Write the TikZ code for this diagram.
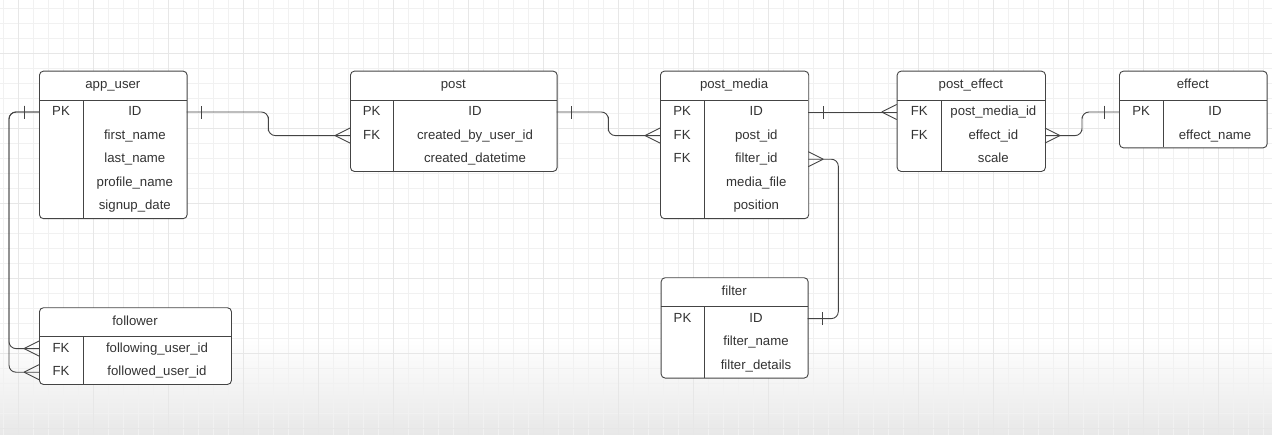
\documentclass[tikz,border=0pt]{standalone}
\usepackage{fontspec}
\setmainfont{Liberation Sans}
\usetikzlibrary{calc,decorations.markings}
\definecolor{erline}{HTML}{444444}
\definecolor{ertext}{HTML}{333333}
\definecolor{minorgrid}{HTML}{F1F1F1}
\definecolor{majorgrid}{HTML}{E7E7E7}
\tikzset{
  tablebox/.style={draw=erline, line width=0.9pt, rounded corners=4pt, fill=white, inner sep=0pt},
  rowtext/.style={text=ertext, font=\fontsize{13.2}{15}\selectfont, inner sep=0pt, text height=10pt, text depth=3pt},
  link/.style={draw=erline, line width=0.9pt, rounded corners=7pt},
  one start/.style={postaction={decorate, decoration={markings,
    mark=at position 15pt with {\draw[erline, line width=0.9pt] (0,-6.5pt) -- (0,6.5pt);}}}},
  many end/.style={postaction={decorate, decoration={markings,
    mark=at position -15pt with {\draw[erline, line width=0.9pt] (0,0) -- (15pt,7.5pt) (0,0) -- (15pt,-7.5pt);}}}}
}
\newcommand{\ertable}[8]{%
  \pgfmathsetmacro{\tbot}{#3+29.5+#6*23.6}
  \node[tablebox, anchor=north west, minimum width={#4-#2}, minimum height={\tbot-#3}] (#1) at (#2,#3) {};
  \draw[erline, line width=0.9pt] (#2,{#3+29.5}) -- (#4,{#3+29.5}) (#5,{#3+29.5}) -- (#5,\tbot);
  \node[rowtext] (#1-title) at ({(#2+#4)/2},{#3+14.7}) {#7};
  \foreach \k/\f [count=\i] in {#8}{
    \node[rowtext] (#1-\i-key) at ({(#2+#5)/2},{#3+29.5+(\i-0.5)*23.6}) {\k};
    \node[rowtext] (#1-\i-field) at ({(#5+#4)/2},{#3+29.5+(\i-0.5)*23.6}) {\f};
    \coordinate (#1-\i-w) at (#2,{#3+29.5+(\i-0.5)*23.6});
    \coordinate (#1-\i-e) at (#4,{#3+29.5+(\i-0.5)*23.6});
  }
}
\begin{document}
\begin{tikzpicture}[x=1pt, y=-1pt]
\useasboundingbox (0,0) rectangle (1272,434);
\clip (0,0) rectangle (1272,434);
\fill[white] (0,0) rectangle (1272,434);
\shade[top color=white, bottom color=black!9] (0,338) rectangle (1272,434);
\draw[minorgrid, line width=0.5pt, shift={(3.3,8.3)}, step=15pt] (-30,-30) grid (1290,450);
\draw[majorgrid, line width=0.6pt, shift={(18.3,53.3)}, step=75pt] (-75,-75) grid (1350,450);

\ertable{appuser}{39}{70.7}{186.7}{83}{5}{app\_user}{PK/ID, /first\_name, /last\_name, /profile\_name, /signup\_date}
\ertable{post}{350}{70.7}{556.7}{393.3}{3}{post}{PK/ID, FK/created\_by\_user\_id, /created\_datetime}
\ertable{postmedia}{660}{70.7}{808.3}{704.3}{5}{post\_media}{PK/ID, FK/post\_id, FK/filter\_id, /media\_file, /position}
\ertable{posteffect}{896.7}{70.7}{1045}{941.7}{3}{post\_effect}{FK/post\_media\_id, FK/effect\_id, /scale}
\ertable{effect}{1119}{70.7}{1266.7}{1163.3}{2}{effect}{PK/ID, /effect\_name}
\ertable{follower}{39}{307.3}{231}{83}{2}{follower}{FK/following\_user\_id, FK/followed\_user\_id}
\ertable{filter}{660.7}{277.3}{807.7}{704.3}{3}{filter}{PK/ID, /filter\_name, /filter\_details}

\draw[link, one start, many end] (appuser-1-e) -| ($(appuser-1-e)!0.5!(post-2-w)$) |- (post-2-w);
\draw[link, one start, many end] (post-1-e) -| ($(post-1-e)!0.5!(postmedia-2-w)$) |- (postmedia-2-w);
\draw[link, one start, many end] (postmedia-1-e) -- (posteffect-1-w);
\draw[link, one start, many end] (effect-1-w) -| ($(effect-1-w)!0.5!(posteffect-2-e)$) |- (posteffect-2-e);
\draw[link, one start, many end] (filter-1-e) -- ++(30.6,0) |- (postmedia-3-e);
\draw[link, one start, many end] (appuser-1-w) -- ++(-30,0) |- (follower-1-w);
\draw[link, one start, many end] (appuser-1-w) -- ++(-30,0) |- (follower-2-w);
\end{tikzpicture}
\end{document}
